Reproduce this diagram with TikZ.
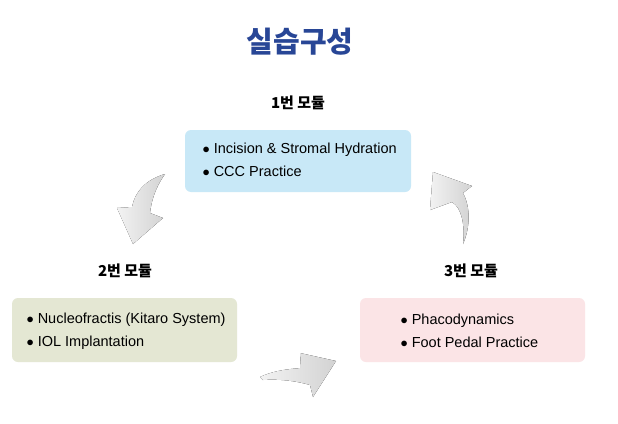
\documentclass[tikz,border=0pt]{standalone}
\usepackage{fontspec}
\setmainfont{Liberation Sans}
\newfontfamily\kr{Noto Sans CJK KR}
\begin{document}
\begin{tikzpicture}[x=1pt,y=-1pt,
 box/.style={draw=none,rounded corners=6pt},
 txt/.style={anchor=west,font=\fontsize{14.5}{23}\selectfont,align=left},
 hdr/.style={font=\kr\bfseries\fontsize{15}{18}\selectfont},
 arr/.style={left color=gray!10,right color=gray!35,draw=none}]
\useasboundingbox (0,0) rectangle (618,423);
\fill[white] (0,0) rectangle (618,423);
\node[font=\kr\bfseries\fontsize{29}{34}\selectfont,text={rgb,255:red,40;green,70;blue,150}] (t) at (300,42) {실습구성};
\node[hdr] (h1) at (298,103) {1번 모듈};
\node[hdr] (h2) at (125,271) {2번 모듈};
\node[hdr] (h3) at (471,271) {3번 모듈};
\fill[box,fill={rgb,255:red,200;green,232;blue,247}] (185,130) rectangle (411,192);
\fill[box,fill={rgb,255:red,228;green,231;blue,211}] (12,298) rectangle (237,362);
\fill[box,fill={rgb,255:red,251;green,228;blue,230}] (360,298) rectangle (585,362);
\node[txt] (b1) at (199,160) {$\bullet$ Incision \& Stromal Hydration\\$\bullet$ CCC Practice};
\node[txt] (b2) at (23,331) {$\bullet$ Nucleofractis (Kitaro System)\\$\bullet$ IOL Implantation};
\node[txt] (b3) at (397,331) {$\bullet$ Phacodynamics\\$\bullet$ Foot Pedal Practice};
% arrows
\fill[arr] (165,174) .. controls (145,180) and (135,192) .. (132,207) -- (117,208) -- (133,244) -- (163,218) -- (150,213) .. controls (152,196) and (158,184) .. (165,174) -- cycle;
\fill[arr] (260,377) .. controls (275,370) and (290,369) .. (301,368) -- (300,353) -- (336,361) -- (313,397) -- (310,385) .. controls (293,380) and (275,379) .. (263,380) -- cycle;
\fill[arr] (463,244) .. controls (465,225) and (462,208) .. (452,202) -- (430,210) -- (433,172) -- (472,186) -- (463,193) .. controls (471,208) and (470,228) .. (463,244) -- cycle;
\end{tikzpicture}
\end{document}
